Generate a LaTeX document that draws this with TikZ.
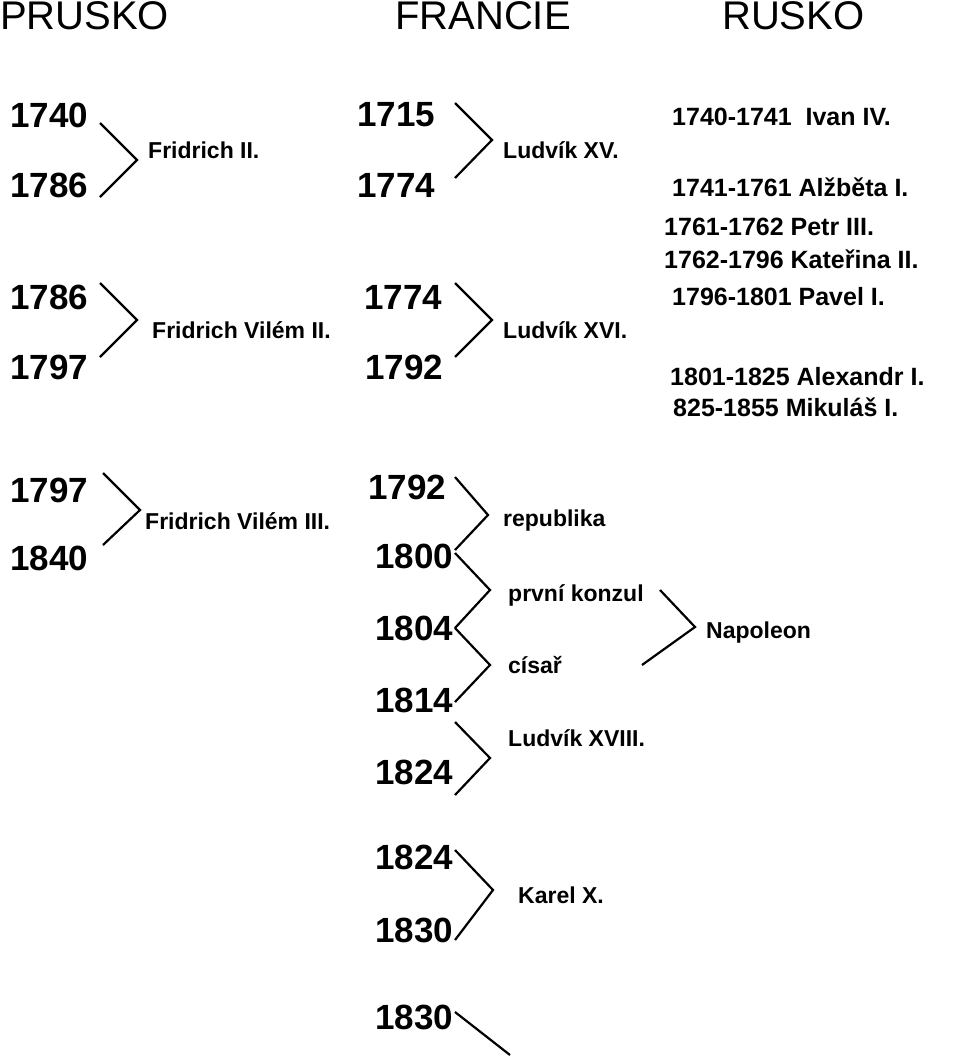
\documentclass[tikz,border=0pt]{standalone}
\usepackage{fontspec}
\setmainfont{Liberation Sans}
\begin{document}
\begin{tikzpicture}[x=1pt,y=-1pt,
 hd/.style={anchor=west,inner sep=0,font=\fontsize{40}{40}\selectfont},
 yr/.style={anchor=west,inner sep=0,font=\bfseries\fontsize{35}{35}\selectfont},
 lb/.style={anchor=west,inner sep=0,font=\bfseries\fontsize{23}{23}\selectfont},
 ru/.style={anchor=west,inner sep=0,font=\bfseries\fontsize{25}{25}\selectfont},
 br/.style={line width=2.2pt}]
\useasboundingbox (0,0) rectangle (960,1060);
\node[hd] (h1) at (0,16) {PRUSKO};
\node[hd] (h2) at (395,16) {FRANCIE};
\node[hd] (h3) at (722,16) {RUSKO};
% Prussia
\node[yr] (p1) at (10,115) {1740};
\node[yr] (p2) at (10,185) {1786};
\node[yr] (p3) at (10,297) {1786};
\node[yr] (p4) at (10,367) {1797};
\node[yr] (p5) at (10,490) {1797};
\node[yr] (p6) at (10,558) {1840};
\coordinate (pa) at (137,160); \coordinate (pb) at (137,320); \coordinate (pc) at (140,510);
\draw[br] (100,123) -- (pa) -- (100,197);
\draw[br] (100,283) -- (pb) -- (100,357);
\draw[br] (103,473) -- (pc) -- (103,545);
\node[lb] (l1) at (148,150) {Fridrich II.};
\node[lb] (l2) at (152,330) {Fridrich Vilém II.};
\node[lb] (l3) at (145,521) {Fridrich Vilém III.};
% France
\node[yr] (f1) at (357,115) {1715};
\node[yr] (f2) at (357,185) {1774};
\node[yr] (f3) at (364,297) {1774};
\node[yr] (f4) at (365,367) {1792};
\coordinate (fa) at (492,140); \coordinate (fb) at (492,320);
\draw[br] (455,103) -- (fa) -- (455,178);
\draw[br] (455,283) -- (fb) -- (455,357);
\node[lb] (g1) at (503,150) {Ludvík  XV.};
\node[lb] (g2) at (503,330) {Ludvík XVI.};
\node[yr] (f5) at (368,487) {1792};
\node[yr] (f6) at (375,556) {1800};
\node[yr] (f7) at (375,628) {1804};
\node[yr] (f8) at (375,700) {1814};
\node[yr] (f9) at (375,772) {1824};
\node[yr] (f10) at (375,857) {1824};
\node[yr] (f11) at (375,930) {1830};
\node[yr] (f12) at (375,1017) {1830};
\coordinate (c1) at (488,515); \coordinate (c2) at (490,590); \coordinate (c3) at (490,665);
\coordinate (c4) at (490,758); \coordinate (c5) at (493,890); \coordinate (c6) at (510,1055);
\draw[br] (455,477) -- (c1) -- (455,550);
\draw[br] (455,553) -- (c2) -- (455,628);
\draw[br] (455,628) -- (c3) -- (455,702);
\draw[br] (455,722) -- (c4) -- (455,795);
\draw[br] (455,850) -- (c5) -- (455,940);
\draw[br] (455,1012) -- (c6);
\node[lb] (g3) at (503,521) {republika};
\node[lb] (g4) at (508,595) {první konzul};
\node[lb] (g5) at (508,665) {císař};
\node[lb] (g6) at (508,738) {Ludvík XVIII.};
\node[lb] (g7) at (518,895) {Karel X.};
\coordinate (na) at (695,627);
\draw[br] (660,590) -- (na) -- (642,665);
\node[lb] (g8) at (706,633) {Napoleon};
% Russia
\node[ru] (r1) at (672,117) {1740-1741\ \ Ivan IV.};
\node[ru] (r2) at (672,187) {1741-1761 Alžběta I.};
\node[ru] (r3) at (664,227) {1761-1762 Petr III.};
\node[ru] (r4) at (664,259) {1762-1796 Kateřina II.};
\node[ru] (r5) at (672,297) {1796-1801 Pavel I.};
\node[ru] (r6) at (670,377) {1801-1825 Alexandr I.};
\node[ru] (r7) at (673,407) {825-1855 Mikuláš I.};
\end{tikzpicture}
\end{document}
